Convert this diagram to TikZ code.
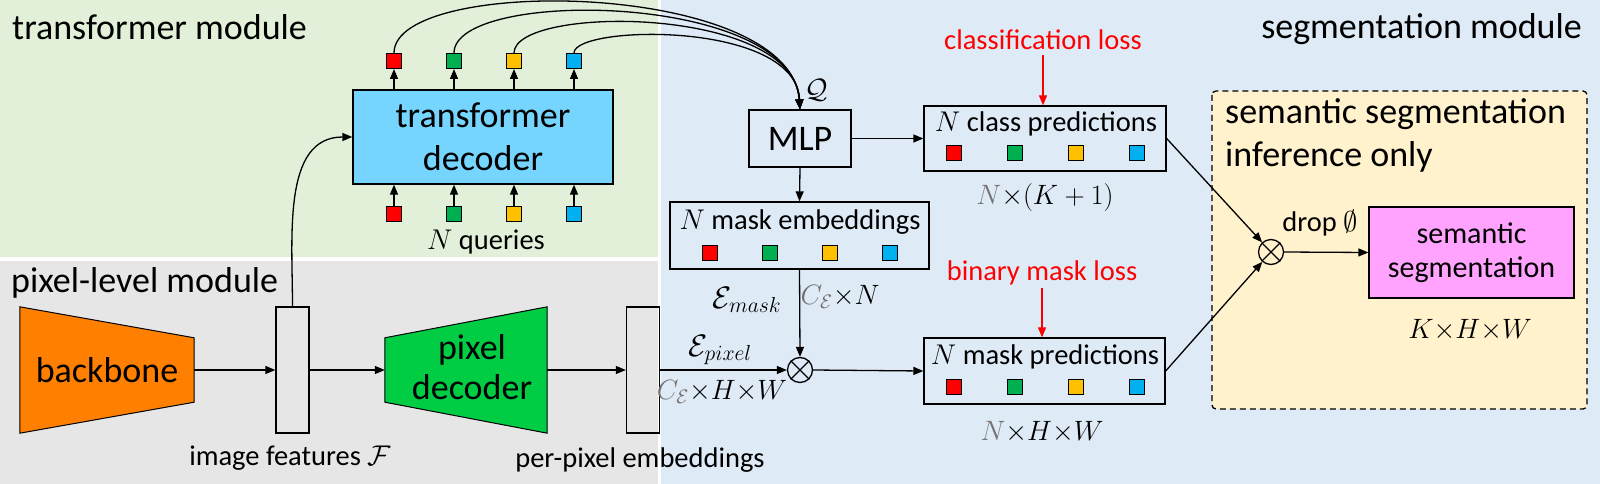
\RequirePackage{fix-cm}
\documentclass[tikz,border=0pt]{standalone}
\usepackage{fontspec}
\setmainfont{Carlito}
\usepackage{amssymb}
\usepackage{xcolor}
\usetikzlibrary{arrows.meta,positioning,calc,backgrounds}
\definecolor{trgreen}{HTML}{E2F0D9}
\definecolor{pxgray}{HTML}{E7E6E6}
\definecolor{sgblue}{HTML}{DEEBF7}
\definecolor{infyellow}{HTML}{FFF2CC}
\definecolor{decblue}{HTML}{75D5FF}
\definecolor{bborange}{HTML}{FF8000}
\definecolor{pdgreen}{HTML}{00CC44}
\definecolor{sempink}{HTML}{FFA3FF}
\definecolor{qred}{HTML}{FF0000}
\definecolor{qgreen}{HTML}{00B050}
\definecolor{qyellow}{HTML}{FFC000}
\definecolor{qblue}{HTML}{00B0F0}
\definecolor{dimgray}{HTML}{767171}

\begin{document}
\begin{tikzpicture}[x=1pt, y=-1pt,
    every node/.style={inner sep=0pt},
    big/.style={font=\fontsize{36}{43}\selectfont},
    small/.style={font=\fontsize{28.5}{34}\selectfont},
    mathlbl/.style={font=\fontsize{28}{34}\selectfont},
    blk/.style={draw, line width=1.3pt},
    featbar/.style={draw, line width=1.3pt, minimum width=33pt, minimum height=126pt},
    sq/.style={draw, line width=1pt, minimum size=15pt},
    arr/.style={-{Triangle[length=10pt, width=8pt]}, line width=1.3pt},
    mulop/.style={draw, circle, line width=1.3pt, minimum size=25pt}
]
  \useasboundingbox (0,0) rectangle (1600,484);
  % module backgrounds
  \begin{scope}[on background layer]
    \fill[white] (0,0) rectangle (1600,484);
    \fill[trgreen] (0,0) rectangle (658,257);
    \fill[pxgray] (0,261) rectangle (658,484);
    \fill[sgblue] (661,0) rectangle (1600,484);
  \end{scope}
  \node[big, anchor=west] (trmod) at (12,27) {transformer module};
  \node[big, anchor=west] (pxmod) at (11,283) {pixel-level module};
  \node[big, anchor=east] (sgmod) at (1582,29) {segmentation module};

  % transformer decoder and queries
  \node[blk, big, fill=decblue, minimum width=260pt, minimum height=94pt, align=center] (dec) at (483,137) {transformer\\decoder};
  \foreach \c [count=\i] in {qred,qgreen,qyellow,qblue} {
    \node[sq, fill=\c] (top\i) at ({334+60*\i},61) {};
    \node[sq, fill=\c] (bot\i) at ({334+60*\i},214) {};
    \draw[arr] (dec.north -| top\i) -- (top\i.south);
    \draw[arr] (bot\i.north) -- (dec.south -| bot\i);
  }
  \node[small] (queries) at (486,242) {$N$ queries};

  % pixel-level module
  \node[big, minimum width=174pt, minimum height=126pt] (backbone) at (107,370) {backbone};
  \node[featbar] (feat) at (292.5,370) {};
  \node[minimum width=162pt, minimum height=126pt] (pixdec) at (466,370) {};
  \node[big, align=center] (pixdectxt) at (472,367) {pixel\\[-3pt]decoder};
  \node[featbar] (ppe) at (643,370) {};
  \begin{scope}[on background layer]
    \draw[fill=bborange, line width=1pt] (backbone.north west) -- ([yshift=-31pt]backbone.north east)
      -- ([yshift=31pt]backbone.south east) -- (backbone.south west) -- cycle;
    \draw[fill=pdgreen, line width=1pt] ([yshift=-31pt]pixdec.north west) -- (pixdec.north east)
      -- (pixdec.south east) -- ([yshift=31pt]pixdec.south west) -- cycle;
  \end{scope}
  \node[small] (featlbl) at (290,458) {image features $\mathcal{F}$};
  \node[small] (ppelbl) at (640,460) {per-pixel embeddings};
  \draw[arr] (backbone.east) -- (feat.west);
  \draw[arr] (feat.east) -- (pixdec.west);
  \draw[arr] (pixdec.east) -- (ppe.west);
  \draw[arr] (feat.north) to[out=90, in=180] (dec.west);

  % segmentation module
  \node[blk, big, minimum width=102pt, minimum height=57pt] (mlp) at (800,138.5) {MLP};
  \node[mathlbl] (qlbl) at (816,90) {$\mathcal{Q}$};
  \foreach \i/\ya/\xb/\yb in {1/-25/790/-20, 2/-12/792/-8, 3/5/794/5, 4/25/796/20}
    \draw[arr] (top\i.north) .. controls (top\i.north |- 0,\ya) and (\xb,\yb) .. (mlp.north);

  \node[blk, minimum width=242pt, minimum height=65pt] (cls) at (1045,138.5) {};
  \node[small] (clstitle) at (1046,124) {$N$ class predictions};
  \node[blk, minimum width=259pt, minimum height=67pt] (memb) at (799.5,235.5) {};
  \node[small] (membtitle) at (800,222) {$N$ mask embeddings};
  \node[blk, minimum width=241pt, minimum height=66pt] (mpred) at (1044.5,371) {};
  \node[small] (mpredtitle) at (1045,357) {$N$ mask predictions};
  \foreach \c [count=\i] in {qred,qgreen,qyellow,qblue} {
    \node[sq, fill=\c] (cls\i) at ({1045+61*\i-152.5},153) {};
    \node[sq, fill=\c] (memb\i) at ({800+60*\i-150},252.5) {};
    \node[sq, fill=\c] (mpred\i) at ({1045+61*\i-152.5},387) {};
  }
  \node[small, text=red] (closs) at (1043,40) {classification loss};
  \node[small, text=red] (mloss) at (1042,273) {binary mask loss};
  \draw[arr, red] ([yshift=-5pt]closs.south) -- (closs.south |- cls.north);
  \draw[arr, red] ([yshift=-3pt]mloss.south) -- (mloss.south |- mpred.north);
  \node[mathlbl] (clsdim) at (1045,197) {$\textcolor{dimgray}{N}{\times}(K+1)$};
  \node[mathlbl] (mpreddim) at (1042,432) {$\textcolor{dimgray}{N}{\times}H{\times}W$};

  \node[mulop] (mul) at (800,370) {};
  \draw[line width=1.3pt] (mul.45) -- (mul.225) (mul.135) -- (mul.315);
  \node[mathlbl, font=\fontsize{31}{34}\selectfont] (emask) at (747,300) {$\mathcal{E}_{mask}$};
  \node[mathlbl] (embdim) at (840,297) {$\textcolor{dimgray}{C_{\mathcal{E}}}{\times}N$};
  \node[mathlbl, font=\fontsize{31}{34}\selectfont] (epixel) at (720,350) {$\mathcal{E}_{pixel}$};
  \node[mathlbl] (pixdim) at (722,392) {$\textcolor{dimgray}{C_{\mathcal{E}}}{\times}H{\times}W$};
  \draw[arr] (mlp.east) -- (cls.west);
  \draw[arr] (mlp.south) -- (memb.north);
  \draw[arr] (memb.south) -- (mul.north);
  \draw[arr] (ppe.east) -- (mul.west);
  \draw[arr] (mul.east) -- (mpred.west);

  % inference only
  \draw[dash pattern=on 6pt off 4pt, line width=1.3pt, rounded corners=4pt, fill=infyellow] (1212,91) rectangle (1587,409);
  \node[big, anchor=north west, align=left] (inflbl) at (1225,98) {semantic segmentation\\inference only};
  \node[mulop] (mul2) at (1271,252) {};
  \draw[line width=1.3pt] (mul2.45) -- (mul2.225) (mul2.135) -- (mul2.315);
  \node[small] (drop) at (1320,223) {drop $\emptyset$};
  \node[blk, fill=sempink, minimum width=205pt, minimum height=91pt, align=center,
        font=\fontsize{30}{34}\selectfont] (sem) at (1471.5,252.5) {semantic\\segmentation};
  \node[mathlbl] (semdim) at (1470,330) {$K{\times}H{\times}W$};
  \draw[arr] (cls.east) -- (mul2);
  \draw[arr] (mpred.east) -- (mul2);
  \draw[arr] (mul2.east) -- (sem.west);
\end{tikzpicture}
\end{document}
